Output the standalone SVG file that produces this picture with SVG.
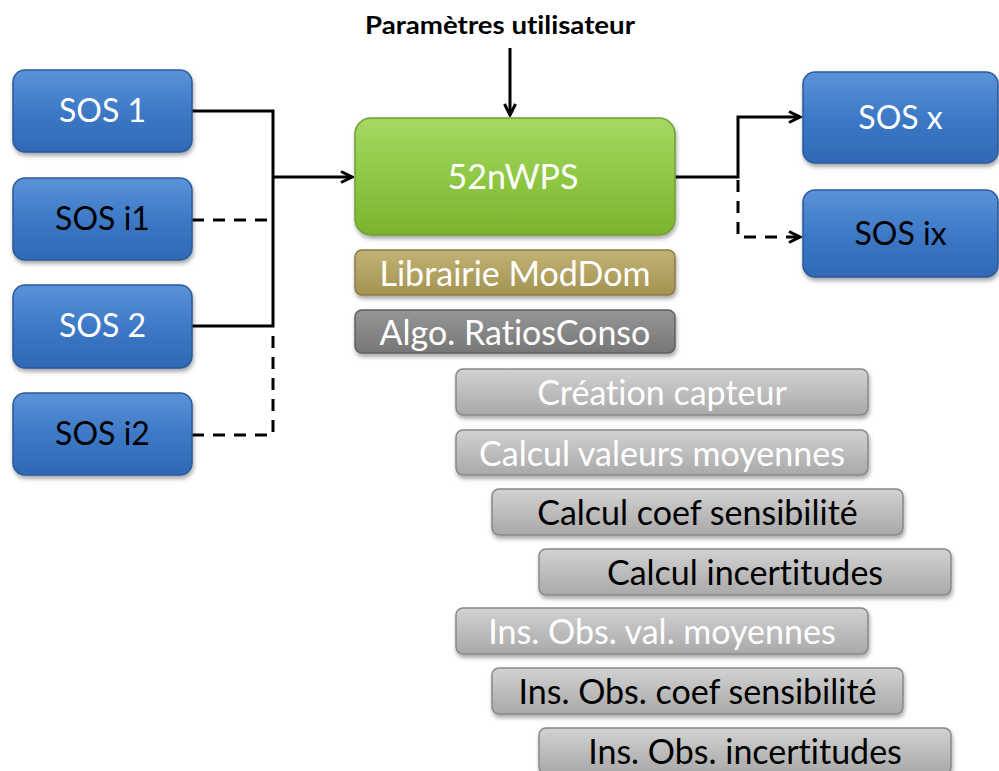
<svg xmlns="http://www.w3.org/2000/svg" width="999" height="771" viewBox="0 0 999 771">
<defs>
<linearGradient id="gBlue" x1="0" y1="0" x2="0" y2="1">
<stop offset="0" stop-color="#5b93d8"/><stop offset="0.5" stop-color="#3d79c6"/><stop offset="1" stop-color="#2f69b5"/>
</linearGradient>
<linearGradient id="gGreen" x1="0" y1="0" x2="0" y2="1">
<stop offset="0" stop-color="#a6d862"/><stop offset="0.5" stop-color="#8fc845"/><stop offset="1" stop-color="#7bb32f"/>
</linearGradient>
<linearGradient id="gOlive" x1="0" y1="0" x2="0" y2="1">
<stop offset="0" stop-color="#c2b374"/><stop offset="1" stop-color="#a39352"/>
</linearGradient>
<linearGradient id="gDark" x1="0" y1="0" x2="0" y2="1">
<stop offset="0" stop-color="#969696"/><stop offset="1" stop-color="#777777"/>
</linearGradient>
<linearGradient id="gLight" x1="0" y1="0" x2="0" y2="1">
<stop offset="0" stop-color="#d2d2d2"/><stop offset="0.5" stop-color="#bdbdbd"/><stop offset="1" stop-color="#a9a9a9"/>
</linearGradient>
<filter id="sh" x="-10%" y="-20%" width="120%" height="150%">
<feDropShadow dx="1" dy="3" stdDeviation="2" flood-color="#000" flood-opacity="0.35"/>
</filter>
<marker id="arr" viewBox="0 0 14 14" refX="12.5" refY="7" markerWidth="14" markerHeight="14" markerUnits="userSpaceOnUse" orient="auto">
<path d="M1.5,1.5 L12.5,7 L1.5,12.5" fill="none" stroke="#000" stroke-width="3"/>
</marker>
</defs>
<style>
.blue{fill:url(#gBlue);stroke:#2a5a9a;stroke-width:1.5;filter:url(#sh)}
.green{fill:url(#gGreen);stroke:#6f9f33;stroke-width:1.5;filter:url(#sh)}
.olive{fill:url(#gOlive);stroke:#8a7c44;stroke-width:1.5;filter:url(#sh)}
.dark{fill:url(#gDark);stroke:#5f5f5f;stroke-width:1.5;filter:url(#sh)}
.light{fill:url(#gLight);stroke:#888;stroke-width:1.5;filter:url(#sh)}
text{font-family:Lato,"Open Sans","Liberation Sans",sans-serif;text-anchor:middle;font-variant-ligatures:none}
.w{fill:#fff}
.k{fill:#000}
.big{font-size:32px}
.mid{font-size:34px}
.line{fill:none;stroke:#000;stroke-width:3}
.dash{fill:none;stroke:#000;stroke-width:3;stroke-dasharray:12 9}
</style>
<g id="connectors">
<path class="line" d="M192,111 H273 V326 H192"/>
<path class="line" d="M273,177 H352" marker-end="url(#arr)"/>
<path class="dash" d="M192,220 H273"/>
<path class="dash" d="M192,435 H273 V330"/>
<path class="line" d="M510,48 V115" marker-end="url(#arr)"/>
<path class="line" d="M675,177 H738 V117 H800" marker-end="url(#arr)"/>
<path class="dash" d="M738,180 V237 H800" marker-end="url(#arr)"/>
</g>
<text x="500" y="34" class="k" style="font-size:24px;font-weight:bold" textLength="270" lengthAdjust="spacingAndGlyphs">Paramètres utilisateur</text>
<g id="sos1"><rect class="blue" x="13" y="70" width="179" height="82" rx="12"/><text x="102.5" y="122" class="w big">SOS 1</text></g>
<g id="sosi1"><rect class="blue" x="13" y="178" width="179" height="82" rx="12"/><text x="102.5" y="230" class="k big">SOS i1</text></g>
<g id="sos2"><rect class="blue" x="13" y="285" width="179" height="83" rx="12"/><text x="102.5" y="337" class="w big">SOS 2</text></g>
<g id="sosi2"><rect class="blue" x="13" y="393" width="179" height="82" rx="12"/><text x="102.5" y="445" class="k big">SOS i2</text></g>
<g id="wps"><rect class="green" x="355" y="118" width="320" height="117" rx="16"/><text x="513" y="189" class="w" style="font-size:34px">52nWPS</text></g>
<g id="moddom"><rect class="olive" x="355" y="250" width="320" height="45" rx="7"/><text x="515" y="286" class="w mid">Librairie ModDom</text></g>
<g id="ratios"><rect class="dark" x="355" y="310" width="320" height="43" rx="7"/><text x="515" y="345" class="w mid">Algo. RatiosConso</text></g>
<g id="sosx"><rect class="blue" x="803" y="72" width="195" height="91" rx="12"/><text x="900.5" y="129" class="w big">SOS x</text></g>
<g id="sosix"><rect class="blue" x="803" y="190" width="195" height="87" rx="12"/><text x="900.5" y="245" class="k big">SOS ix</text></g>
<g id="creation"><rect class="light" x="456" y="369" width="412" height="46" rx="7"/><text x="662" y="405" class="w mid">Création capteur</text></g>
<g id="valmoy"><rect class="light" x="456" y="430" width="412" height="45" rx="7"/><text x="662" y="466" class="w mid">Calcul valeurs moyennes</text></g>
<g id="coef"><rect class="light" x="492" y="489" width="411" height="46" rx="7"/><text x="697.5" y="525" class="k mid">Calcul coef sensibilité</text></g>
<g id="incert"><rect class="light" x="539" y="549" width="412" height="46" rx="7"/><text x="745" y="585" class="k mid">Calcul incertitudes</text></g>
<g id="insvalmoy"><rect class="light" x="456" y="608" width="412" height="46" rx="7"/><text x="662" y="644" class="w mid">Ins. Obs. val. moyennes</text></g>
<g id="inscoef"><rect class="light" x="492" y="668" width="411" height="46" rx="7"/><text x="697.5" y="704" class="k mid">Ins. Obs. coef sensibilité</text></g>
<g id="insincert"><rect class="light" x="539" y="728" width="412" height="46" rx="7"/><text x="745" y="764" class="k mid">Ins. Obs. incertitudes</text></g>
</svg>
